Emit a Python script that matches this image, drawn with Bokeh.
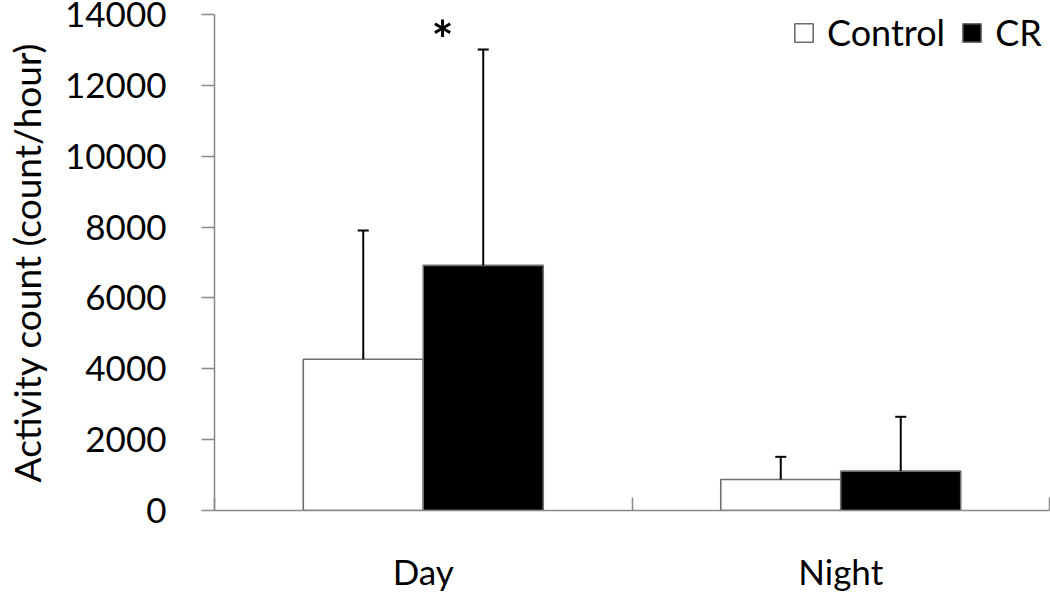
from bokeh.plotting import figure
from bokeh.models import (Range1d, FixedTicker, Whisker, TeeHead, ColumnDataSource,
                          Legend, LegendItem, Label)
from bokeh.embed import file_html
from bokeh.resources import INLINE

# ---- data ----
categories = ["Day", "Night"]
groups = ["Control", "CR"]
control_mean = [4270, 875]
control_sd = [3630, 640]
cr_mean = [6920, 1110]
cr_sd = [6090, 1535]
y_ticks = [0, 2000, 4000, 6000, 8000, 10000, 12000, 14000]
y_label = "Activity count (count/hour)"
significance = ["*", ""]

FONT = "Lato"
AXIS_GRAY = "#898989"
BAR_EDGE = "#6e6e6e"

bar_w = 0.2874
centers = [i + 0.5 for i in range(len(categories))]
ctrl_x = [c - bar_w / 2 for c in centers]
cr_x = [c + bar_w / 2 for c in centers]

p = figure(width=1050, height=594, output_backend="svg", toolbar_location=None,
           x_range=Range1d(0, len(categories)), y_range=Range1d(0, 14000),
           min_border_left=214, min_border_right=1, min_border_top=14, min_border_bottom=84)
p.xgrid.visible = False
p.ygrid.visible = False
p.outline_line_color = None
p.background_fill_color = "white"

src_c = ColumnDataSource(dict(x=ctrl_x, top=control_mean,
                              hi=[m + s for m, s in zip(control_mean, control_sd)]))
src_r = ColumnDataSource(dict(x=cr_x, top=cr_mean,
                              hi=[m + s for m, s in zip(cr_mean, cr_sd)]))

r_c = p.vbar(x="x", top="top", bottom=0, width=bar_w, source=src_c,
             fill_color="white", line_color=BAR_EDGE, line_width=1.6)
r_r = p.vbar(x="x", top="top", bottom=0, width=bar_w, source=src_r,
             fill_color="black", line_color=BAR_EDGE, line_width=1.6)

for src in (src_c, src_r):
    w = Whisker(base="x", lower="top", upper="hi", source=src, dimension="height",
                lower_head=None,
                upper_head=TeeHead(size=11, line_width=2, line_color="black"),
                line_width=2, line_color="black", level="overlay")
    p.add_layout(w)

# significance marks
for i, s in enumerate(significance):
    if s:
        p.add_layout(Label(x=centers[i] + bar_w * 0.16, y=cr_mean[i] + cr_sd[i], text=s,
                           text_font=FONT, text_font_size="52px", text_font_style="bold",
                           text_align="center", text_baseline="alphabetic",
                           text_color="black", y_offset=11))

# x axis
p.xaxis.ticker = FixedTicker(ticks=centers, minor_ticks=[0, 1, 2])
p.xaxis.major_label_overrides = {c: n for c, n in zip(centers, categories)}
p.xaxis.major_tick_line_color = None
p.xaxis.major_tick_in = 0
p.xaxis.major_tick_out = 0
p.xaxis.minor_tick_in = 13
p.xaxis.minor_tick_out = 0
p.xaxis.minor_tick_line_color = AXIS_GRAY
p.xaxis.minor_tick_line_width = 1.5
p.xaxis.axis_line_color = AXIS_GRAY
p.xaxis.axis_line_width = 1.5
p.xaxis.major_label_text_font = FONT
p.xaxis.major_label_text_font_size = "35px"
p.xaxis.major_label_text_color = "black"
p.xaxis.major_label_standoff = 39

# y axis
p.yaxis.ticker = FixedTicker(ticks=y_ticks)
p.yaxis.major_tick_out = 13
p.yaxis.major_tick_in = 0
p.yaxis.minor_tick_line_color = None
p.yaxis.major_tick_line_color = AXIS_GRAY
p.yaxis.major_tick_line_width = 1.5
p.yaxis.axis_line_color = AXIS_GRAY
p.yaxis.axis_line_width = 1.5
p.yaxis.major_label_text_font = FONT
p.yaxis.major_label_text_font_size = "35px"
p.yaxis.major_label_text_color = "black"
p.yaxis.major_label_standoff = 35
p.yaxis.axis_label = y_label
p.yaxis.axis_label_text_font = FONT
p.yaxis.axis_label_text_font_size = "37px"
p.yaxis.axis_label_text_font_style = "normal"
p.yaxis.axis_label_text_color = "black"
p.yaxis.axis_label_standoff = 13

legend = Legend(items=[LegendItem(label=groups[0], renderers=[r_c]),
                       LegendItem(label=groups[1], renderers=[r_r])],
                location=(578, 456), orientation="horizontal",
                glyph_width=23, glyph_height=23, label_standoff=12, spacing=15,
                padding=0, margin=0,
                label_text_font=FONT, label_text_font_size="36px",
                label_text_color="black",
                background_fill_alpha=0, border_line_color=None)
p.add_layout(legend)

open("out.html", "w").write(file_html(p, INLINE))
